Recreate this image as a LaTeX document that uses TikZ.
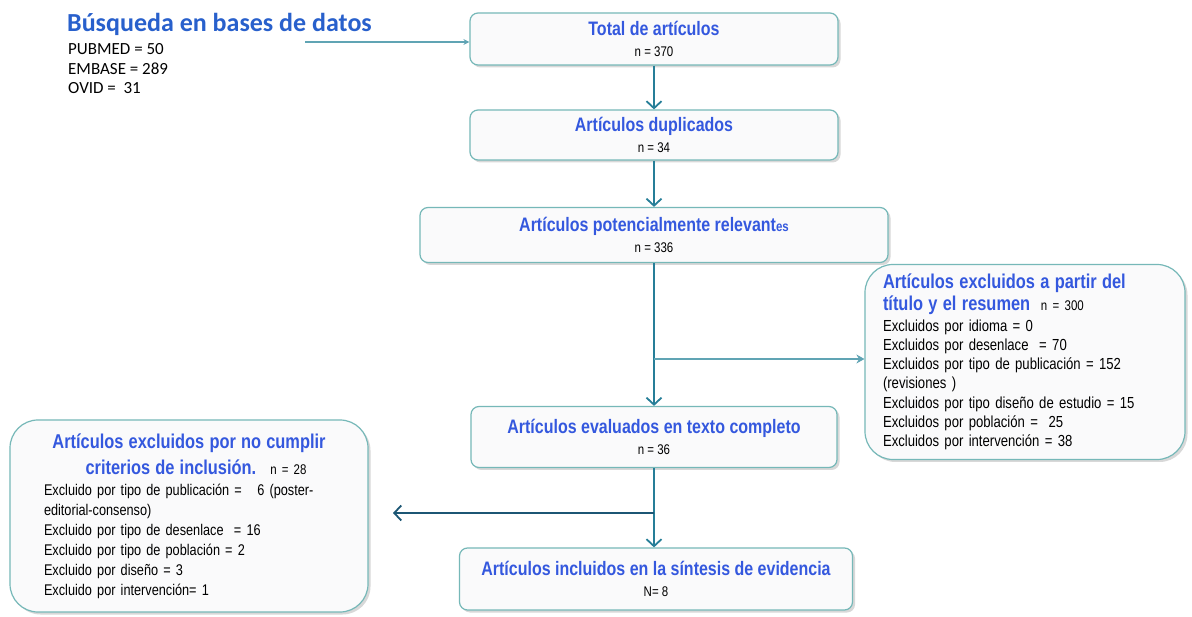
\documentclass[tikz,border=0pt]{standalone}
\usepackage{fontspec}
\setmainfont{Liberation Sans}[FakeStretch=0.82]
\newfontfamily\searchfont{Carlito}
\usetikzlibrary{arrows.meta,shadows}

\definecolor{boxline}{RGB}{118,184,184}
\definecolor{boxfill}{RGB}{250,250,251}
\definecolor{headblue}{RGB}{52,88,222}
\definecolor{searchblue}{RGB}{40,96,204}
\definecolor{flowteal}{RGB}{38,126,152}
\definecolor{darkteal}{RGB}{28,86,116}
\definecolor{lightteal}{RGB}{96,164,180}

\newcommand{\hd}[1]{{\fontsize{19.5}{21}\selectfont\bfseries\color{headblue}#1}}
\newcommand{\nn}[1]{{\fontsize{14}{21}\selectfont #1}}

\tikzset{
  stagebox/.style={draw=boxline, line width=1.2pt, fill=boxfill, rounded corners=8pt,
    align=center, inner sep=2pt, font=\fontsize{14}{21}\selectfont,
    drop shadow={shadow xshift=2.5pt, shadow yshift=-2.5pt, fill=black!30, opacity=0.5}},
  sidebox/.style={stagebox, rounded corners=28pt, align=left, font=\fontsize{16}{19.3}\selectfont},
  flow/.style={draw=flowteal, line width=2.4pt, -{Straight Barb[length=7pt,width=15pt,line width=1.8pt]}},
  sideflow/.style={draw=lightteal, line width=2pt, -{Stealth[length=8pt,width=9pt]}},
  backflow/.style={draw=darkteal, line width=2.6pt, -{Straight Barb[length=7pt,width=15pt,line width=1.8pt]}},
  feed/.style={draw=lightteal, line width=1.4pt, -{Stealth[length=6pt,width=6pt]}}
}

\begin{document}
\begin{tikzpicture}[x=1pt,y=-1pt]
    \useasboundingbox[fill=white] (0,0) rectangle (1192,617);

    % search block
    \node[anchor=base west, inner sep=0, text=searchblue, font=\searchfont\fontsize{26}{26}\selectfont\bfseries] (search) at (67,32) {Búsqueda en bases de datos};
    \node[anchor=north west, inner sep=0, align=left, font=\searchfont\fontsize{17}{19.5}\selectfont] (dblist) at (68,43.5) {PUBMED = 50\\EMBASE = 289\\OVID =\ \ 31};
    \coordinate (dbarrow) at (305,42);

    % main flow
    \node[stagebox, minimum width=368pt, minimum height=52pt] (total) at (654,39) {\hd{Total de artículos}\\\nn{n = 370}};
    \node[stagebox, minimum width=368pt, minimum height=50pt] (dup) at (654,135) {\hd{Artículos duplicados}\\\nn{n = 34}};
    \node[stagebox, minimum width=468pt, minimum height=55pt] (relev) at (654,235) {\hd{Artículos potencialmente relevant}{\fontsize{14}{21}\selectfont\bfseries\color{headblue}es}\\\nn{n = 336}};
    \node[stagebox, minimum width=366pt, minimum height=61pt] (fulltext) at (654,437) {\hd{Artículos evaluados en texto completo}\\\nn{n = 36}};
    \node[stagebox, minimum width=393pt, minimum height=62pt] (incl) at (656,579) {\hd{Artículos incluidos en la síntesis de evidencia}\\\nn{N= 8}};

    % exclusion boxes
    \node[sidebox, minimum width=320pt, minimum height=195pt, text width=284pt] (excl1) at (1025,362) {%
        \hd{\fontsize{20}{21}\selectfont Artículos excluidos a partir del}\\[3pt]
        \hd{\fontsize{20}{21}\selectfont título y el resumen}\ \ \nn{n = 300}\\[1pt]
        Excluidos por idioma = 0\\
        Excluidos por desenlace\ \ = 70\\
        Excluidos por tipo de publicación = 152\\
        (revisiones )\\
        Excluidos por tipo diseño de estudio = 15\\
        Excluidos por población =\ \ 25\\
        Excluidos por intervención = 38};
    \node[sidebox, minimum width=358pt, minimum height=192pt, text width=290pt, font=\fontsize{15.5}{20}\selectfont] (excl2) at (189,516) {%
        \makebox[\hsize]{\hd{\fontsize{20}{21}\selectfont Artículos excluidos por no cumplir}}\\[6pt]
        \makebox[\hsize]{\hspace{14pt}\hd{\fontsize{20}{21}\selectfont criterios de inclusión.}\hspace{14pt}\nn{n = 28}}\\[1pt]
        Excluido por tipo de publicación =\ \ \ 6 (poster-\\
        editorial-consenso)\\
        Excluido por tipo de desenlace\ \ = 16\\
        Excluido por tipo de población = 2\\
        Excluido por diseño = 3\\
        Excluido por intervención= 1};

    % connectors
    \coordinate (split1) at (654,359);
    \coordinate (split2) at (654,513);
    \coordinate (leftend) at (393,513);
    \draw[feed] (dbarrow) -- (dbarrow -| total.west);
    \draw[flow] (total.south) -- (dup.north);
    \draw[flow] (dup.south) -- (relev.north);
    \draw[flow] (relev.south) -- (fulltext.north);
    \draw[sideflow] (split1) -- (split1 -| excl1.west);
    \draw[flow] (fulltext.south) -- (fulltext.south |- incl.north);
    \draw[backflow] (split2) -- (leftend);
\end{tikzpicture}
\end{document}
